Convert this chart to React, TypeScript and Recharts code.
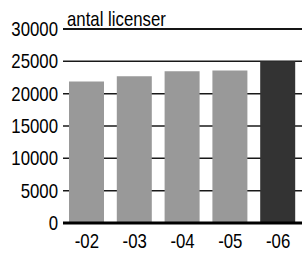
import { Bar, BarChart, CartesianGrid, Cell, ReferenceLine, XAxis, YAxis } from 'recharts'

const years = ['-02', '-03', '-04', '-05', '-06']
const licenses = [21900, 22700, 23450, 23600, 25000]
const barColors = ['#999999', '#999999', '#999999', '#999999', '#333333']
const yTicks = [0, 5000, 10000, 15000, 20000, 25000, 30000]
const unitLabel = 'antal licenser'

const data = years.map((year, i) => ({ year, value: licenses[i] }))

// the original face is a narrow grotesque; squeeze Liberation Sans to match
const SQUEEZE = 0.84
const textStyle = { fontFamily: '"Liberation Sans", Arial, sans-serif', fontSize: 20, fill: '#000000' }

const YTick = ({ x, y, payload }: any) => (
  <text transform={`translate(${x},${y}) scale(${SQUEEZE},1)`} textAnchor="end" dy="0.355em" {...textStyle}>
    {payload.value}
  </text>
)

const XTick = ({ x, y, payload }: any) => (
  <text transform={`translate(${x},${y}) scale(${SQUEEZE},1)`} textAnchor="middle" dy="0.71em" {...textStyle}>
    {payload.value}
  </text>
)

const UnitLabel = ({ viewBox }: any) => (
  <text transform={`translate(${viewBox.x + 4},${viewBox.y - 3.5}) scale(${SQUEEZE},1)`} {...textStyle}>
    {unitLabel}
  </text>
)

export default function App() {
  return (
    <div style={{ position: 'absolute', left: 0, top: 0, width: 302, height: 253, background: '#ffffff' }}>
      <BarChart width={302} height={253} data={data} margin={{ top: 29, right: 0, bottom: 0, left: 0 }} barSize={35}>
        <CartesianGrid vertical={false} stroke="#000000" strokeWidth={1.5} strokeOpacity={0.9} />
        <YAxis
          domain={[0, 30000]}
          ticks={yTicks}
          width={63}
          axisLine={false}
          tickLine={false}
          tickSize={3}
          tickMargin={2}
          tick={<YTick />}
          interval={0}
        />
        <XAxis
          dataKey="year"
          height={30}
          axisLine={{ stroke: '#000000', strokeWidth: 3 }}
          tickLine={false}
          tickMargin={5}
          tick={<XTick />}
        />
        <ReferenceLine y={30000} stroke="#000000" strokeWidth={1.5} label={<UnitLabel />} />
        <Bar dataKey="value" isAnimationActive={false}>
          {data.map((_, i) => (
            <Cell key={i} fill={barColors[i]} />
          ))}
        </Bar>
      </BarChart>
    </div>
  )
}
